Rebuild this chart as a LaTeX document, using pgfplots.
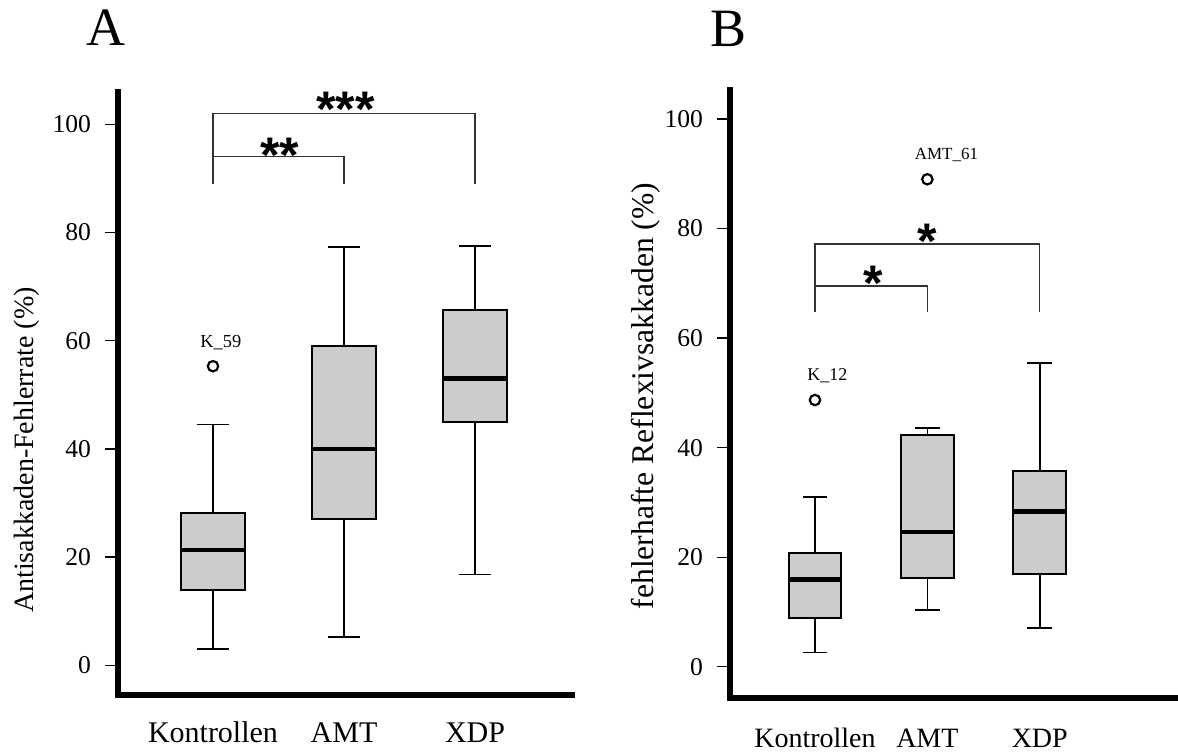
\documentclass[border=0pt]{standalone}
\usepackage{fontspec}
\setmainfont{Liberation Serif}
\newfontfamily\starfont{Liberation Sans}
\usepackage{pgfplots}
\pgfplotsset{compat=1.18}
\usepgfplotslibrary{statistics}
\definecolor{boxgray}{HTML}{CCCCCC}
\definecolor{brkcol}{HTML}{333333}

\pgfplotsset{
  panel/.style={
    scale only axis, anchor=south west, clip=false,
    axis lines=left,
    axis line style={-, line width=2.6pt, line cap=rect, black},
    ytick={0,20,40,60,80,100},
    xtick={1,2,3},
    tick align=outside,
    major tick length=6.5pt,
    ytick style={line width=0.7pt, black},
    xtick style={draw=none},
    /pgf/number format/assume math mode=true,
    yticklabel style={font=\fontsize{12.8}{12.8}\selectfont, xshift=-3.5pt},
    boxplot/draw direction=y,
    boxplot/every box/.style={fill=boxgray, draw=black, line width=1pt},
    boxplot/every median/.style={line width=2.3pt},
    boxplot/every whisker/.style={line width=0.8pt},
  },
  bracket/.style={brkcol, line width=0.6pt, mark=none, sharp plot},
  outl/.style={only marks, mark=o, mark size=2.6pt, line width=1.1pt, black},
}
\tikzset{stars/.style={font=\starfont\bfseries\fontsize{25}{25}\selectfont, anchor=base}}

\begin{document}
\begin{tikzpicture}
\useasboundingbox (0,0) rectangle (589pt,-376.5pt);

\node[font=\fontsize{27}{27}\selectfont, anchor=base] at (53pt,-23pt) {A};
\node[font=\fontsize{27}{27}\selectfont, anchor=base] at (364.5pt,-23.5pt) {B};

% Panel A
\begin{axis}[panel,
  at={(59pt,-347.5pt)}, width=227pt, height=301.5pt,
  xmin=0.275, xmax=3.74, ymin=-5.5, ymax=106,
  xticklabels={Kontrollen,AMT,XDP},
  xticklabel style={font=\fontsize{15}{15}\selectfont, text height=10.5pt, text depth=3pt, yshift=-3pt},
]
\addplot+[black, solid, boxplot prepared={draw direction=y, median=21.3, upper quartile=28.1, lower quartile=14.0,
  upper whisker=44.5, lower whisker=3.0, draw position=1,
  box extend=0.49, whisker extend=0.25}] coordinates {};
\addplot+[black, solid, boxplot prepared={draw direction=y, median=40.0, upper quartile=59.0, lower quartile=27.0,
  upper whisker=77.3, lower whisker=5.2, draw position=2,
  box extend=0.49, whisker extend=0.25}] coordinates {};
\addplot+[black, solid, boxplot prepared={draw direction=y, median=53.0, upper quartile=65.7, lower quartile=45.0,
  upper whisker=77.5, lower whisker=16.8, draw position=3,
  box extend=0.49, whisker extend=0.25}] coordinates {};
\addplot[outl] coordinates {(1,55.3)};
\node[font=\fontsize{9.2}{9.2}\selectfont] at (axis cs:1.06,59.7) {K\_59};
\addplot[bracket] coordinates {(1,89) (1,94) (2,94) (2,89)};
\addplot[bracket] coordinates {(1,89) (1,102) (3,102) (3,89)};
\node[stars] at (axis cs:1.51,91.2) {**};
\node[stars] at (axis cs:2.01,99.6) {***};
\end{axis}
\node[rotate=90, anchor=base, font=\fontsize{14}{14}\selectfont] at (16.5pt,-225pt) {Antisakkaden-Fehlerrate (\%)};

% Panel B
\begin{axis}[panel,
  at={(365pt,-349pt)}, width=224pt, height=304pt,
  xmin=0.244, xmax=4.23, ymin=-5.7, ymax=105.3,
  xticklabels={Kontrollen,AMT,XDP},
  xticklabel style={font=\fontsize{14}{14}\selectfont, text height=10pt, text depth=3pt, yshift=-4.5pt},
]
\addplot+[black, solid, boxplot prepared={draw direction=y, median=15.9, upper quartile=20.8, lower quartile=8.9,
  upper whisker=31.0, lower whisker=2.6, draw position=1,
  box extend=0.47, whisker extend=0.22}] coordinates {};
\addplot+[black, solid, boxplot prepared={draw direction=y, median=24.6, upper quartile=42.3, lower quartile=16.2,
  upper whisker=43.6, lower whisker=10.4, draw position=2,
  box extend=0.47, whisker extend=0.22}] coordinates {};
\addplot+[black, solid, boxplot prepared={draw direction=y, median=28.3, upper quartile=35.8, lower quartile=17.0,
  upper whisker=55.5, lower whisker=7.1, draw position=3,
  box extend=0.47, whisker extend=0.22}] coordinates {};
\addplot[outl] coordinates {(1,48.7) (2,89.0)};
\node[font=\fontsize{9}{9}\selectfont] at (axis cs:1.11,53.1) {K\_12};
\node[font=\fontsize{8.5}{8.5}\selectfont] at (axis cs:2.17,93.4) {AMT\_61};
\addplot[bracket] coordinates {(1,64.8) (1,69.5) (2,69.5) (2,64.8)};
\addplot[bracket] coordinates {(1,64.8) (1,77.2) (3,77.2) (3,64.8)};
\node[stars] at (axis cs:1.52,66.9) {*};
\node[stars] at (axis cs:2.0,74.5) {*};
\end{axis}
\node[rotate=90, anchor=base, font=\fontsize{15.8}{15.8}\selectfont] at (326.5pt,-198pt) {fehlerhafte Reflexivsakkaden (\%)};
\end{tikzpicture}
\end{document}
